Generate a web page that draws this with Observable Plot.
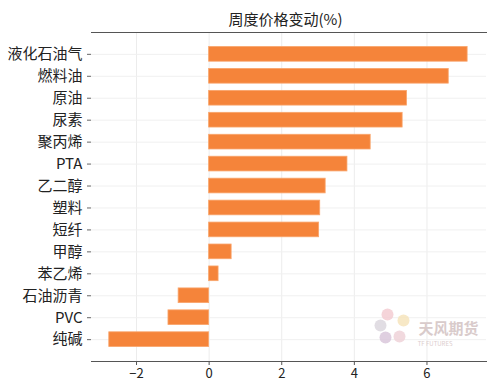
<!DOCTYPE html>
<html>
<head>
<meta charset="utf-8">
<script src="https://cdn.jsdelivr.net/npm/d3@7"></script>
<script src="https://cdn.jsdelivr.net/npm/@observablehq/plot@0.6"></script>
<style>
  body { margin: 0; background: #fff; width: 500px; height: 392px; overflow: hidden; }
  #title { box-sizing: border-box; height: 31px; padding-top: 7px; line-height: 24px; padding-left: 85px; padding-right: 14px;
           text-align: center; font-family: "Noto Sans CJK SC", sans-serif; font-size: 15px; color: #222; }
  #chart svg { display: block; }
</style>
</head>
<body>
<div id="title">周度价格变动(%)</div>
<div id="chart"></div>
<script>
const categories = ["液化石油气", "燃料油", "原油", "尿素", "聚丙烯", "PTA", "乙二醇", "塑料", "短纤", "甲醇", "苯乙烯", "石油沥青", "PVC", "纯碱"];
const values = [7.12, 6.60, 5.45, 5.33, 4.45, 3.81, 3.21, 3.06, 3.03, 0.62, 0.26, -0.84, -1.12, -2.75];
const xTicks = [-2, 0, 2, 4, 6];

// watermark logo petals (decorative)
const petalColors = ["#f2c9cf", "#f5e2b8", "#d9d4dc", "#d7c3d8", "#eed0d6"];
const petalDx = [-99, -83, -106, -101, -87];
const petalDy = [-47, -41, -36, -24, -25];

const data = categories.map((c, i) => ({category: c, value: values[i]}));
const petals = petalColors.map((c, i) => ({color: c, dx: petalDx[i], dy: petalDy[i]}));

const chart = Plot.plot({
  width: 500,
  height: 361,
  marginTop: 1,
  marginBottom: 31,
  marginLeft: 91,
  marginRight: 14,
  style: {fontFamily: "'Noto Sans CJK SC', sans-serif", color: "#222", background: "#fff"},
  x: {domain: [-3.24, 7.64], ticks: xTicks, label: null},
  y: {domain: categories, paddingInner: 0.33, paddingOuter: 0.66, round: false, label: null},
  marks: [
    Plot.gridX(xTicks, {stroke: "#ececec", strokeOpacity: 1}),
    Plot.gridY({stroke: "#f0f0f0", strokeOpacity: 1}),
    Plot.barX(data, {x: "value", y: "category", fill: "#f5843a", stroke: "#f9a56c", strokeWidth: 0.8}),
    Plot.frame({anchor: "top", stroke: "#555"}),
    Plot.frame({anchor: "bottom", stroke: "#555"}),
    Plot.axisY({tickSize: 4, tickPadding: 5, fontSize: 15, stroke: "#666", label: null}),
    Plot.axisX(xTicks, {tickSize: 4, tickPadding: 3, fontSize: 13, stroke: "#555", label: null}),
    ...petals.map(p => Plot.dot([p], {frameAnchor: "bottom-right", dx: p.dx, dy: p.dy, r: 6, fill: p.color, fillOpacity: 0.8})),
    Plot.text(["天风期货"], {frameAnchor: "bottom-right", dx: -8, dy: -28, fontSize: 15, fill: "#d9cbcb", fontWeight: "bold"}),
    Plot.text(["TF FUTURES"], {frameAnchor: "bottom-right", dx: -34, dy: -16, fontSize: 6, fill: "#dccdcd"})
  ]
});
document.getElementById("chart").appendChild(chart);
</script>
</body>
</html>
